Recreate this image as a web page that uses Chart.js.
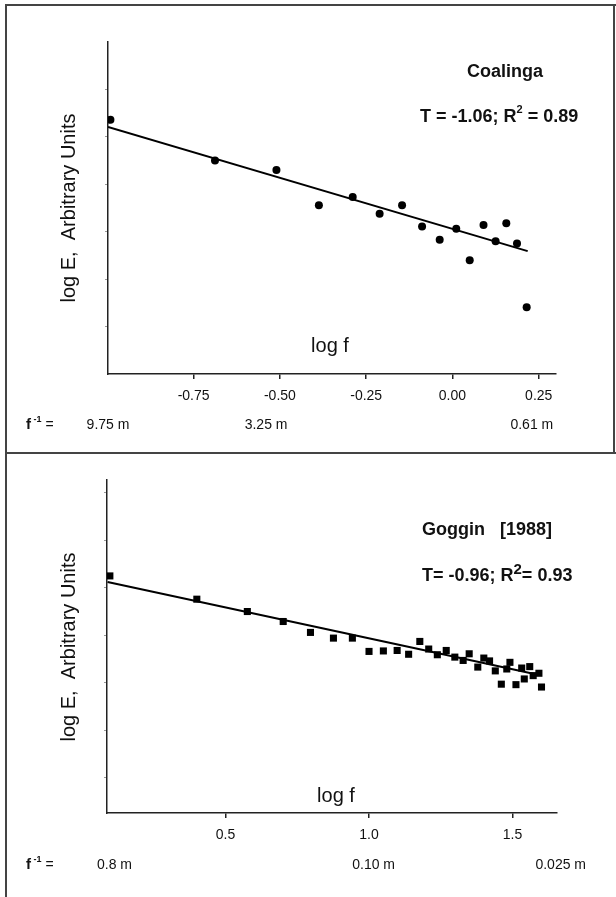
<!DOCTYPE html>
<html>
<head>
<meta charset="utf-8">
<script src="https://cdn.jsdelivr.net/npm/chart.js@4/dist/chart.umd.min.js"></script>
<style>
  html, body { margin: 0; padding: 0; background: #fff; }
  #page { position: relative; width: 616px; height: 897px; overflow: hidden; }
  .pane { position: absolute; left: 0; width: 616px; }
  #paneTop { top: 0; height: 453px; }
  #paneBot { top: 453px; height: 444px; }
  .rule { position: absolute; background: #444; }
</style>
</head>
<body>
<div id="page">
  <div class="pane" id="paneTop"><canvas id="coalingaChart" width="616" height="453"></canvas></div>
  <div class="pane" id="paneBot"><canvas id="gogginChart" width="616" height="444"></canvas></div>
  <div class="rule" style="left:5px;top:4px;width:611px;height:2px"></div>
  <div class="rule" style="left:5px;top:4px;width:2px;height:893px"></div>
  <div class="rule" style="left:613px;top:4px;width:2px;height:449px"></div>
  <div class="rule" style="left:5px;top:452px;width:611px;height:2px"></div>
</div>
<script>
// Coalinga (upper panel), log E in arbitrary units
const coalingaLogF = [-0.991, -0.688, -0.510, -0.387, -0.289, -0.211, -0.146, -0.088,
                      -0.037, 0.011, 0.050, 0.090, 0.125, 0.156, 0.187, 0.215];
const coalingaLogE = [5.36, 4.50, 4.30, 3.56, 3.73, 3.38, 3.56, 3.11,
                      2.83, 3.06, 2.40, 3.14, 2.80, 3.18, 2.75, 1.41];
const coalingaFitLogF = [-0.998, 0.218];
const coalingaFitLogE = [5.21, 2.59];
const coalingaTicks = [-0.75, -0.50, -0.25, 0.00, 0.25];
const coalingaWaveAt = [-0.998, -0.54, 0.23];
const coalingaWave = ['9.75 m', '3.25 m', '0.61 m'];

// Goggin [1988] (lower panel)
const gogginLogF = [0.097, 0.400, 0.576, 0.701, 0.796, 0.876, 0.942, 1.000,
                    1.050, 1.098, 1.138, 1.177, 1.208, 1.238, 1.269, 1.299,
                    1.328, 1.349, 1.379, 1.400, 1.420, 1.440, 1.461, 1.480,
                    1.491, 1.512, 1.532, 1.541, 1.560, 1.572, 1.592, 1.601];
const gogginLogE = [5.25, 4.76, 4.50, 4.29, 4.06, 3.94, 3.94, 3.66,
                    3.67, 3.68, 3.60, 3.87, 3.71, 3.59, 3.68, 3.54,
                    3.47, 3.61, 3.33, 3.52, 3.46, 3.25, 2.97, 3.29,
                    3.43, 2.96, 3.31, 3.08, 3.34, 3.15, 3.20, 2.91];
const gogginFitLogF = [0.089, 1.589];
const gogginFitLogE = [5.12, 3.17];
const gogginTicks = [0.5, 1.0, 1.5];
const gogginWaveAt = [0.113, 1.016, 1.668];
const gogginWave = ['0.8 m', '0.10 m', '0.025 m'];

const yTicks = [0, 1, 2, 3, 4, 5, 6, 7];
const FONT = '"Liberation Sans", Arial, sans-serif';

function pts(xs, ys) {
  return xs.map((x, i) => ({ x: x, y: ys[i] }));
}

// draws a row of text pieces (for superscripts)
function runs(ctx, x, y, parts) {
  ctx.textBaseline = 'middle';
  ctx.textAlign = 'left';
  parts.forEach(p => {
    ctx.font = p.f;
    ctx.fillText(p.t, x, y + (p.dy || 0));
    x += ctx.measureText(p.t).width;
  });
}

function labelsPlugin(o) {
  return {
    id: 'panelText',
    afterDraw(chart) {
      const ctx = chart.ctx;
      const xs = chart.scales.x;
      ctx.save();
      ctx.fillStyle = '#111';

      ctx.save();
      ctx.translate(o.yTitle[0], o.yTitle[1]);
      ctx.rotate(-Math.PI / 2);
      ctx.font = '20px ' + FONT;
      ctx.textAlign = 'center';
      ctx.textBaseline = 'middle';
      ctx.fillText('log E,  Arbitrary Units', 0, 0);
      ctx.restore();

      ctx.font = '20px ' + FONT;
      ctx.textAlign = 'center';
      ctx.textBaseline = 'middle';
      ctx.fillText('log f', o.xTitle[0], o.xTitle[1]);

      ctx.font = 'bold 18px ' + FONT;
      ctx.textAlign = 'left';
      ctx.fillText(o.name, o.nameAt[0], o.nameAt[1]);
      runs(ctx, o.statAt[0], o.statAt[1], o.stat);

      runs(ctx, 26, o.rowY, [
        { t: 'f', f: 'bold 15px ' + FONT },
        { t: ' -1', f: 'bold 9px ' + FONT, dy: -5 },
        { t: ' =', f: '14px ' + FONT }
      ]);
      ctx.font = '14px ' + FONT;
      ctx.textAlign = 'center';
      o.waveAt.forEach((v, i) => {
        ctx.fillText(o.wave[i], xs.getPixelForValue(v), o.rowY);
      });
      ctx.restore();
    }
  };
}

function makeConfig(d) {
  return {
    type: 'scatter',
    data: {
      datasets: [{
        data: pts(d.fx, d.fy),
        showLine: true,
        borderColor: '#000',
        borderWidth: 2,
        pointRadius: 0
      }, {
        data: pts(d.px, d.py),
        pointStyle: d.marker,
        pointRadius: d.radius,
        backgroundColor: '#000',
        borderColor: '#000',
        borderWidth: 0
      }]
    },
    options: {
      responsive: false,
      animation: false,
      layout: { padding: d.padding },
      plugins: {
        legend: { display: false },
        tooltip: { enabled: false },
        title: { display: false }
      },
      scales: {
        x: {
          type: 'linear',
          bounds: 'data',
          min: d.xmin,
          max: d.xmax,
          border: { color: '#222', width: 1.5 },
          grid: { drawOnChartArea: false, drawTicks: true, tickLength: 5, color: '#222', lineWidth: 1.5 },
          ticks: {
            color: '#111',
            padding: 9,
            maxRotation: 0,
            autoSkip: false,
            font: { family: FONT, size: 14 },
            callback: v => v.toFixed(d.decimals)
          },
          afterBuildTicks: s => { s.ticks = d.ticks.map(v => ({ value: v })); },
          afterFit: s => { s.height = d.xHeight; }
        },
        y: {
          type: 'linear',
          bounds: 'data',
          min: d.ymin,
          max: d.ymax,
          border: { color: '#222', width: 1.5 },
          grid: { drawOnChartArea: false, drawTicks: true, tickLength: 3, color: '#999', lineWidth: 1 },
          ticks: { display: false },
          afterBuildTicks: s => { s.ticks = yTicks.filter(v => v > d.ymin && v < d.ymax).map(v => ({ value: v })); },
          afterFit: s => { s.width = d.yWidth; }
        }
      }
    },
    plugins: [labelsPlugin(d.text)]
  };
}

const configCoalinga = makeConfig({
  px: coalingaLogF, py: coalingaLogE, fx: coalingaFitLogF, fy: coalingaFitLogE,
  marker: 'circle', radius: 4,
  xmin: -0.998, xmax: 0.30, ymin: 0, ymax: 7, ticks: coalingaTicks, decimals: 2,
  padding: { top: 42, right: 60, left: 0, bottom: 0 }, xHeight: 79, yWidth: 108,
  text: {
    yTitle: [69, 208], xTitle: [330, 346],
    name: 'Coalinga', nameAt: [467, 72],
    statAt: [420, 117],
    stat: [
      { t: 'T = -1.06; R', f: 'bold 18px ' + FONT },
      { t: '2', f: 'bold 11px ' + FONT, dy: -7 },
      { t: ' = 0.89', f: 'bold 18px ' + FONT }
    ],
    rowY: 425, waveAt: coalingaWaveAt, wave: coalingaWave
  }
});

const configGoggin = makeConfig({
  px: gogginLogF, py: gogginLogE, fx: gogginFitLogF, fy: gogginFitLogE,
  marker: 'rect', radius: 5,
  xmin: 0.087, xmax: 1.655, ymin: 0.257, ymax: 7.27, ticks: gogginTicks, decimals: 1,
  padding: { top: 27, right: 59, left: 0, bottom: 0 }, xHeight: 84, yWidth: 107,
  text: {
    yTitle: [69, 194], xTitle: [336, 343],
    name: 'Goggin   [1988]', nameAt: [422, 77],
    statAt: [422, 123],
    stat: [
      { t: 'T= -0.96; R', f: 'bold 18px ' + FONT },
      { t: '2', f: 'bold 15px ' + FONT, dy: -6 },
      { t: '= 0.93', f: 'bold 18px ' + FONT }
    ],
    rowY: 412, waveAt: gogginWaveAt, wave: gogginWave
  }
});

new Chart(document.getElementById('coalingaChart'), configCoalinga);
new Chart(document.getElementById('gogginChart'), configGoggin);
</script>
</body>
</html>
